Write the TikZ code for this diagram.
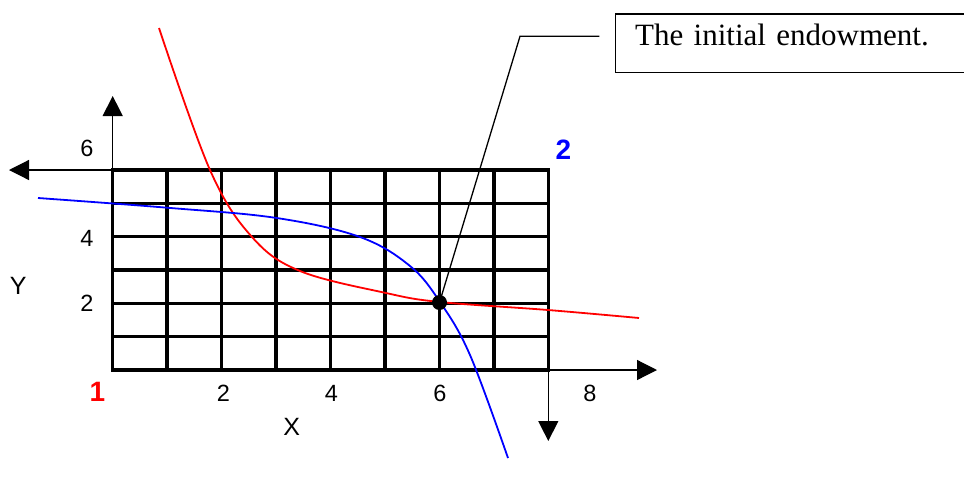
\documentclass[tikz,border=0pt]{standalone}
\usepackage{fontspec}
\setmainfont{Liberation Sans}
\newfontfamily\timesfont{Liberation Serif}
\usetikzlibrary{arrows.meta}
\begin{document}
\begin{tikzpicture}[x=1pt,y=-1pt,
  gridline/.style={line width=3.4pt,line cap=rect},
  axisline/.style={line width=1.2pt,-{Triangle[length=20pt,width=20pt]}},
  curve/.style={line width=1.8pt},
  lbl/.style={inner sep=0pt,font=\fontsize{23.5}{26}\selectfont},
  big/.style={inner sep=0pt,font=\fontsize{28}{30}\selectfont\bfseries}]
\useasboundingbox (0,0) rectangle (964,483);
% grid
\foreach \i in {0,...,8}{\draw[gridline] (112.7+54.45*\i,170) -- (112.7+54.45*\i,370);}
\foreach \j in {0,...,6}{\draw[gridline] (112.7,170+33.33*\j) -- (548.3,170+33.33*\j);}
% axes
\coordinate (o1) at (112.7,370);
\coordinate (ytop) at (112.7,96);
\coordinate (lft0) at (112.7,170);
\coordinate (lft) at (9,170);
\coordinate (o2) at (548.3,370);
\coordinate (rgt) at (657,370);
\coordinate (dwn) at (548.3,441);
\draw[axisline] (o1) -- (ytop);
\draw[axisline] (lft0) -- (lft);
\draw[axisline] (o2) -- (rgt);
\draw[axisline] (o2) -- (dwn);
% curves
\draw[curve,red] plot[smooth,tension=0.6] coordinates {(159,28) (210,170) (252,237) (300,271) (386,293) (440,302) (548,310) (639,318)};
\draw[curve,blue] plot[smooth,tension=0.6] coordinates {(38,198) (167,207.7) (276.7,218) (360,237) (410,266) (440,302) (470,355) (508,458)};
% dot
\node[circle,fill=black,inner sep=0pt,minimum size=15pt] (dot) at (439.5,302.5) {};
% labels
\node[lbl] (y6) at (87,148) {6};
\node[lbl] (y4) at (87,238) {4};
\node[lbl] (y2) at (87,303) {2};
\node[lbl,font=\fontsize{25}{28}\selectfont] (ylab) at (18.3,286) {Y};
\node[lbl] (x2) at (223.3,393.3) {2};
\node[lbl] (x4) at (331.5,393.3) {4};
\node[lbl] (x6) at (440,393.3) {6};
\node[lbl] (x8) at (590,393.3) {8};
\node[lbl,font=\fontsize{25}{28}\selectfont] (xlab) at (291.7,427) {X};
\node[big,red] (one) at (97.5,391.7) {1};
\node[big,blue] (two) at (563.3,150.2) {2};
% callout
\node[draw,line width=1.3pt,anchor=north west,minimum width=352pt,minimum height=58.5pt,
  inner xsep=20pt,inner ysep=0pt,text width=312pt,align=left,text depth=16.7pt,
  font=\fontsize{31}{34}\timesfont] (box) at (614.5,13.3) {The initial endowment.};
\coordinate (bend) at (520,36.3);
\coordinate (leadend) at (599.3,36.3);
\draw[line width=1.3pt] (dot.center) -- (bend) -- (leadend);
\end{tikzpicture}
\end{document}
